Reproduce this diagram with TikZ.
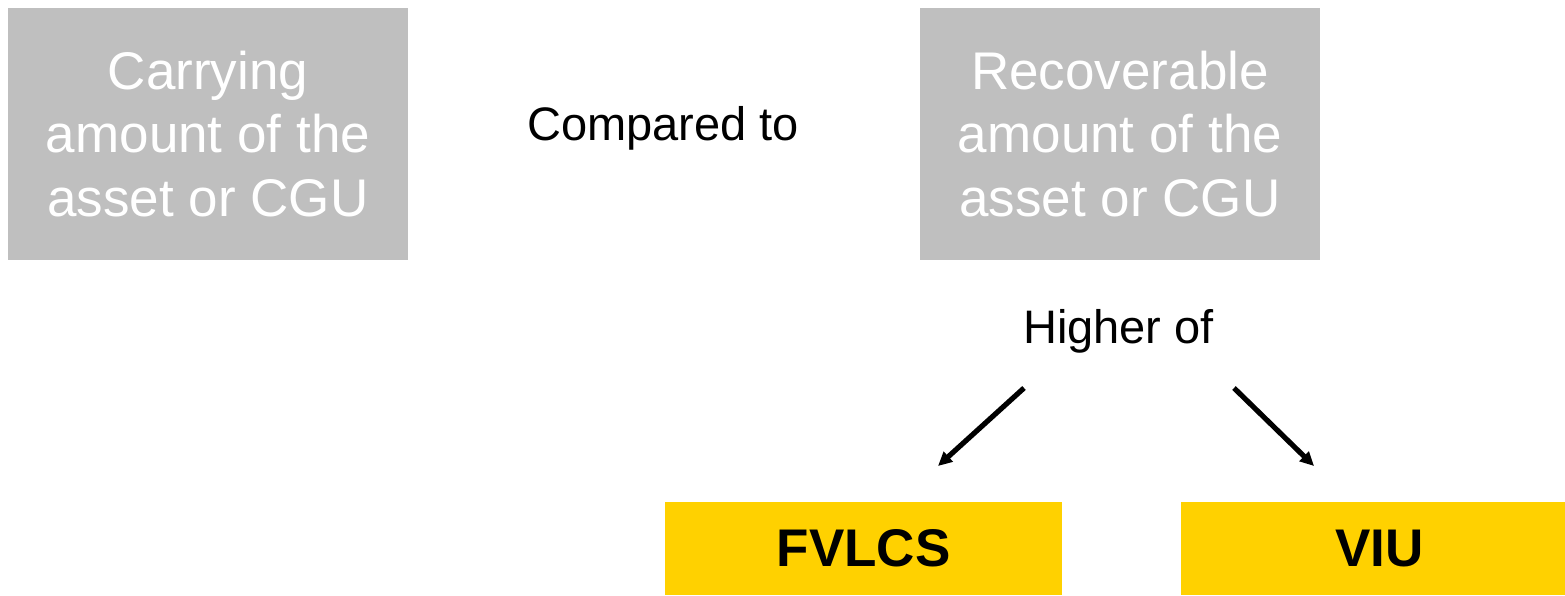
\documentclass[tikz,border=0pt]{standalone}
\usepackage{fontspec}
\setmainfont{Liberation Sans}
\usetikzlibrary{arrows.meta}
\definecolor{boxgray}{HTML}{BFBFBF}
\definecolor{boxyellow}{HTML}{FFD100}
\tikzset{
  graybox/.style={fill=boxgray, text=white, inner sep=0pt, minimum width=200pt, minimum height=126pt,
    align=center, font=\fontsize{26.5}{31.8}\selectfont},
  yellowbox/.style={fill=boxyellow, text=black, inner sep=0pt, minimum width=198.5pt, minimum height=46.5pt,
    font=\fontsize{26.5}{31.8}\selectfont\bfseries},
  plainlabel/.style={inner sep=0pt, anchor=base, font=\fontsize{23.5}{28}\selectfont},
  arr/.style={line width=2.6pt, -{Triangle[length=7pt,width=6.5pt]}}
}
\begin{document}
\begin{tikzpicture}[x=0.5pt,y=-0.5pt]
\useasboundingbox (0,0) rectangle (1565,595);
\node[graybox] (carry) at (208,134) {Carrying\\amount of the\\asset or CGU};
\node[graybox] (recov) at (1120,134) {Recoverable\\amount of the\\asset or CGU};
\node[plainlabel] (cmp) at (663,140) {Compared to};
\node[plainlabel] (higher) at (1118.5,343) {Higher of};
\node[yellowbox] (fvlcs) at (863.5,548.5) {FVLCS};
\node[yellowbox] (viu) at (1379.5,548.5) {VIU};
\coordinate (a1s) at (1024,388);
\coordinate (a1e) at (938,466);
\coordinate (a2s) at (1234,388);
\coordinate (a2e) at (1314,466);
\draw[arr] (a1s) -- (a1e);
\draw[arr] (a2s) -- (a2e);
\end{tikzpicture}
\end{document}
